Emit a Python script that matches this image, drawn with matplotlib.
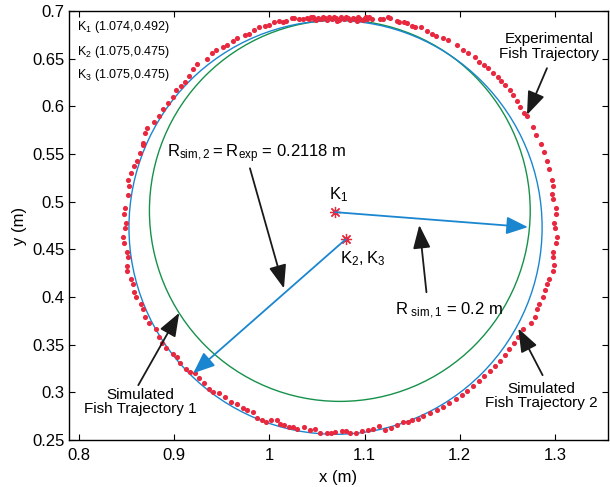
import matplotlib.pyplot as plt
from matplotlib.patches import Circle
from matplotlib.ticker import FormatStrFormatter

plt.rcParams['font.family'] = ['Liberation Sans', 'DejaVu Sans']
plt.rcParams['mathtext.default'] = 'regular'

# experimental fish trajectory (dots)
exp_x = [
    # upper left
    0.9394, 0.9348, 0.9236, 0.9194, 0.9159, 0.9113, 0.9068, 0.9019, 0.8984, 0.893,
    0.888, 0.884, 0.8788, 0.8717, 0.8693, 0.8675, 0.8669, 0.864, 0.861, 0.858, 0.855,
    # left side
    0.8518, 0.8528, 0.8518, 0.8483, 0.8473, 0.8494, 0.8486, 0.8465, 0.8473, 0.8507,
    0.8515, 0.8501, 0.8507, 0.8543, 0.8564, 0.8578, 0.8599, 0.8648, 0.8669, 0.8693,
    0.8739, 0.8809, 0.884,
    # lower left
    0.8868, 0.8914, 0.8991, 0.9033, 0.9061, 0.9124, 0.9166, 0.9218, 0.9264, 0.9313,
    0.9369, 0.9411, 0.9474, 0.9534, 0.9594, 0.9657, 0.9726, 0.9762, 0.9825, 0.9873,
    0.9919, 0.9964, 1.0014, 1.0077, 1.0111, 1.0153, 1.0209, 1.0251, 1.0293, 1.0363,
    1.0426, 1.0479, 1.0532, 1.0602,
    # bottom
    1.0644, 1.0693, 1.0758, 1.0807, 1.0848, 1.0909, 1.0971, 1.1032, 1.1093, 1.1155,
    1.1216, 1.1277, 1.1338, 1.1400, 1.1461, 1.1502, 1.1563,
    # lower right
    1.1619, 1.1688, 1.1757, 1.1824, 1.1890, 1.1956, 1.2019, 1.2081, 1.2142, 1.2201,
    1.2258, 1.2315, 1.2369, 1.2420, 1.2472, 1.2520, 1.2565, 1.2611,
    # right side
    1.2667, 1.2751, 1.2786, 1.2807, 1.2835, 1.2877, 1.2898, 1.2919, 1.2940, 1.2982,
    1.2990, 1.2976, 1.2982, 1.3011, 1.3024, 1.3003, 1.2990, 1.3011, 1.3011, 1.2982,
    1.2965, 1.2982, 1.2965, 1.2935, 1.2915, 1.2880, 1.2855, 1.2805,
    # upper right
    1.2773, 1.2703, 1.2675, 1.2633, 1.2604, 1.2556, 1.2528, 1.2475, 1.2430, 1.2398,
    1.2346, 1.2300, 1.2254, 1.2205, 1.2160, 1.2089, 1.2030, 1.1967, 1.1876, 1.1827,
    1.1750, 1.1705, 1.1652, 1.1596, 1.1533, 1.1501, 1.1449, 1.1414, 1.1361, 1.1337,
    1.1267, 1.1249, 1.1190, 1.1162,
    # top cluster
    1.108, 1.105, 1.103, 1.101, 1.100, 1.098, 1.095, 1.093, 1.092, 1.090, 1.088, 1.085,
    1.083, 1.080, 1.078, 1.075, 1.073, 1.071, 1.070, 1.068, 1.066, 1.063, 1.061, 1.058,
    1.056, 1.054, 1.051, 1.049, 1.047, 1.046, 1.044, 1.042, 1.039,
    # upper left top
    1.0350, 1.0314, 1.0262, 1.0234, 1.0174, 1.0146, 1.0098, 1.0048, 0.9993, 0.9957,
    0.9894, 0.9842, 0.9789, 0.9744, 0.9663, 0.9615, 0.9558, 0.9516, 0.9439,
]
exp_y = [
    0.6562, 0.6496, 0.6444, 0.6391, 0.6318, 0.6258, 0.6213, 0.6171, 0.6101, 0.603,
    0.597, 0.590, 0.5838, 0.5769, 0.5717, 0.5618, 0.5594, 0.551, 0.543, 0.537, 0.530,
    0.5227, 0.5164, 0.5069, 0.4930, 0.4867, 0.4779, 0.4720, 0.4632, 0.4562, 0.4474,
    0.4415, 0.4324, 0.4275, 0.4191, 0.4135, 0.4055, 0.3996, 0.3926, 0.3870, 0.3786,
    0.3723, 0.3660, 0.358,
    0.3513, 0.3461, 0.3401, 0.3366, 0.3303, 0.3240, 0.3216, 0.3198, 0.3146, 0.3093,
    0.3030, 0.3005, 0.2995, 0.2953, 0.2900, 0.2876, 0.2831, 0.2813, 0.2795, 0.2736,
    0.2708, 0.2690, 0.2708, 0.2708, 0.2673, 0.2656, 0.2638, 0.2632, 0.2617, 0.2638,
    0.2603, 0.2617, 0.2576, 0.2569,
    0.2569, 0.2586, 0.2594, 0.2590, 0.2569, 0.2578, 0.2590, 0.2610, 0.2618, 0.2643,
    0.2610, 0.2631, 0.2659, 0.2692, 0.2684, 0.2712, 0.2725,
    0.2749, 0.2780, 0.2815, 0.2851, 0.2889, 0.2929, 0.2973, 0.3019, 0.3066, 0.3115,
    0.3167, 0.3219, 0.3275, 0.3333, 0.3391, 0.3452, 0.3516, 0.3579,
    0.3660, 0.3723, 0.3786, 0.3870, 0.3926, 0.3996, 0.4072, 0.4135, 0.4191, 0.4275,
    0.4331, 0.4415, 0.4474, 0.4562, 0.4632, 0.4720, 0.4779, 0.4867, 0.4930, 0.5024,
    0.5080, 0.5164, 0.5227, 0.534, 0.543, 0.552, 0.561, 0.570,
    0.5780, 0.5898, 0.5933, 0.5996, 0.6059, 0.6119, 0.6171, 0.6224, 0.6265, 0.6311,
    0.6353, 0.6398, 0.6433, 0.6468, 0.6515, 0.6556, 0.6591, 0.6647, 0.6696, 0.6713,
    0.6734, 0.6755, 0.6794, 0.6829, 0.6835, 0.6839, 0.6878, 0.6885, 0.6885, 0.6898,
    0.6930, 0.6934, 0.6920, 0.6920,
    0.6920, 0.6935, 0.6915, 0.6940, 0.6930, 0.6905, 0.6920, 0.6935, 0.6900, 0.6915,
    0.6930, 0.6910, 0.6925, 0.6940, 0.6920, 0.6935, 0.6910, 0.6900, 0.6925, 0.6940,
    0.6920, 0.6935, 0.6910, 0.6925, 0.6940, 0.6915, 0.6930, 0.6905, 0.6920, 0.6940,
    0.6935, 0.6915, 0.6925,
    0.6920, 0.6920, 0.6930, 0.6930, 0.6898, 0.6885, 0.6892, 0.6885, 0.6850, 0.6839,
    0.6829, 0.6804, 0.6755, 0.6745, 0.6717, 0.6688, 0.6647, 0.6625, 0.6591,
]

# simulated trajectories: centre and radius
sim1_center = (1.074, 0.4905)
sim1_radius = 0.2
sim2_center = (1.0695, 0.473)
sim2_radius = 0.217

# marked centres K1 and K2/K3
k1_pos = (1.069, 0.489)
k2_pos = (1.080, 0.4604)
k1_arrow_end = (1.2716, 0.4733)
k2_arrow_end = (0.920, 0.320)

legend_lines = [r'$K_1$ (1.074,0.492)', r'$K_2$ (1.075,0.475)', r'$K_3$ (1.075,0.475)']
legend_y = [0.683, 0.657, 0.633]

red = '#e8283f'
blue = '#1a86d0'
green = '#16914a'

fig = plt.figure(figsize=(6.1, 4.87), dpi=100)
ax = fig.add_axes([0.1131, 0.0965, 0.8836, 0.8809])

ax.add_patch(Circle(sim1_center, sim1_radius, fill=False, color=green, lw=1.0))
ax.add_patch(Circle(sim2_center, sim2_radius, fill=False, color=blue, lw=1.0))
ax.plot(exp_x, exp_y, 'o', color=red, markersize=3.7, markeredgewidth=0, linestyle='none')

# radius arrows
blue_arrow = dict(arrowstyle='-|>,head_length=1.1,head_width=0.45', color=blue, lw=1.3,
                  mutation_scale=12, shrinkA=0, shrinkB=0)
ax.annotate('', xy=k1_arrow_end, xytext=k1_pos, arrowprops=blue_arrow)
ax.annotate('', xy=k2_arrow_end, xytext=k2_pos, arrowprops=blue_arrow)

ax.plot(*k1_pos, marker=(8, 2, 0), color=red, markersize=8, mew=0.9)
ax.plot(*k2_pos, marker=(8, 2, 0), color=red, markersize=8, mew=0.9)

black_arrow = dict(arrowstyle='-|>,head_length=1.2,head_width=0.45', color='#1a1a1a', lw=1.3,
                   mutation_scale=12, shrinkA=0, shrinkB=0)
ax.annotate('', xy=(1.2706, 0.591), xytext=(1.2916, 0.640), arrowprops=black_arrow)
ax.annotate('', xy=(1.0153, 0.409), xytext=(0.9796, 0.535), arrowprops=black_arrow)
ax.annotate('', xy=(1.1575, 0.4755), xytext=(1.165, 0.405), arrowprops=black_arrow)
ax.annotate('', xy=(0.9053, 0.3834), xytext=(0.8623, 0.3075), arrowprops=black_arrow)
ax.annotate('', xy=(1.2615, 0.367), xytext=(1.287, 0.318), arrowprops=black_arrow)

# labels
ax.text(1.063, 0.507, r'$K_1$', fontsize=12, ha='left', va='center')
ax.text(1.074, 0.440, r'$K_2, K_3$', fontsize=12, ha='left', va='center')
ax.text(0.892, 0.5507, r'$R_{sim,2} = R_{exp}$ = 0.2118 m', fontsize=12, ha='left', va='center')
ax.text(1.132, 0.386, r'$R_{\ sim,1}$ = 0.2 m', fontsize=12, ha='left', va='center')
ax.text(1.2937, 0.6627, 'Experimental\nFish Trajectory', fontsize=11, ha='center', va='center',
        linespacing=1.05)
ax.text(0.864, 0.2897, 'Simulated\nFish Trajectory 1', fontsize=11, ha='center', va='center',
        linespacing=1.05)
ax.text(1.286, 0.296, 'Simulated\nFish Trajectory 2', fontsize=11, ha='center', va='center',
        linespacing=1.05)
for line, ly in zip(legend_lines, legend_y):
    ax.text(0.798, ly, line, fontsize=9, ha='left', va='center')

ax.set_xlim(0.7895, 1.3557)
ax.set_ylim(0.25, 0.7)
ax.set_xticks([0.8, 0.9, 1.0, 1.1, 1.2, 1.3])
ax.set_yticks([0.25, 0.3, 0.35, 0.4, 0.45, 0.5, 0.55, 0.6, 0.65, 0.7])
ax.xaxis.set_major_formatter(FormatStrFormatter('%g'))
ax.yaxis.set_major_formatter(FormatStrFormatter('%g'))
ax.tick_params(direction='in', top=True, right=True, length=4, width=0.8, labelsize=12)
ax.tick_params(axis='x', pad=6)
ax.tick_params(axis='y', pad=3)
for s in ax.spines.values():
    s.set_linewidth(1.0)
ax.set_xlabel('x (m)', fontsize=12, labelpad=5)
ax.set_ylabel('y (m)', fontsize=12, labelpad=4)

fig.savefig('out.png', dpi=100)
